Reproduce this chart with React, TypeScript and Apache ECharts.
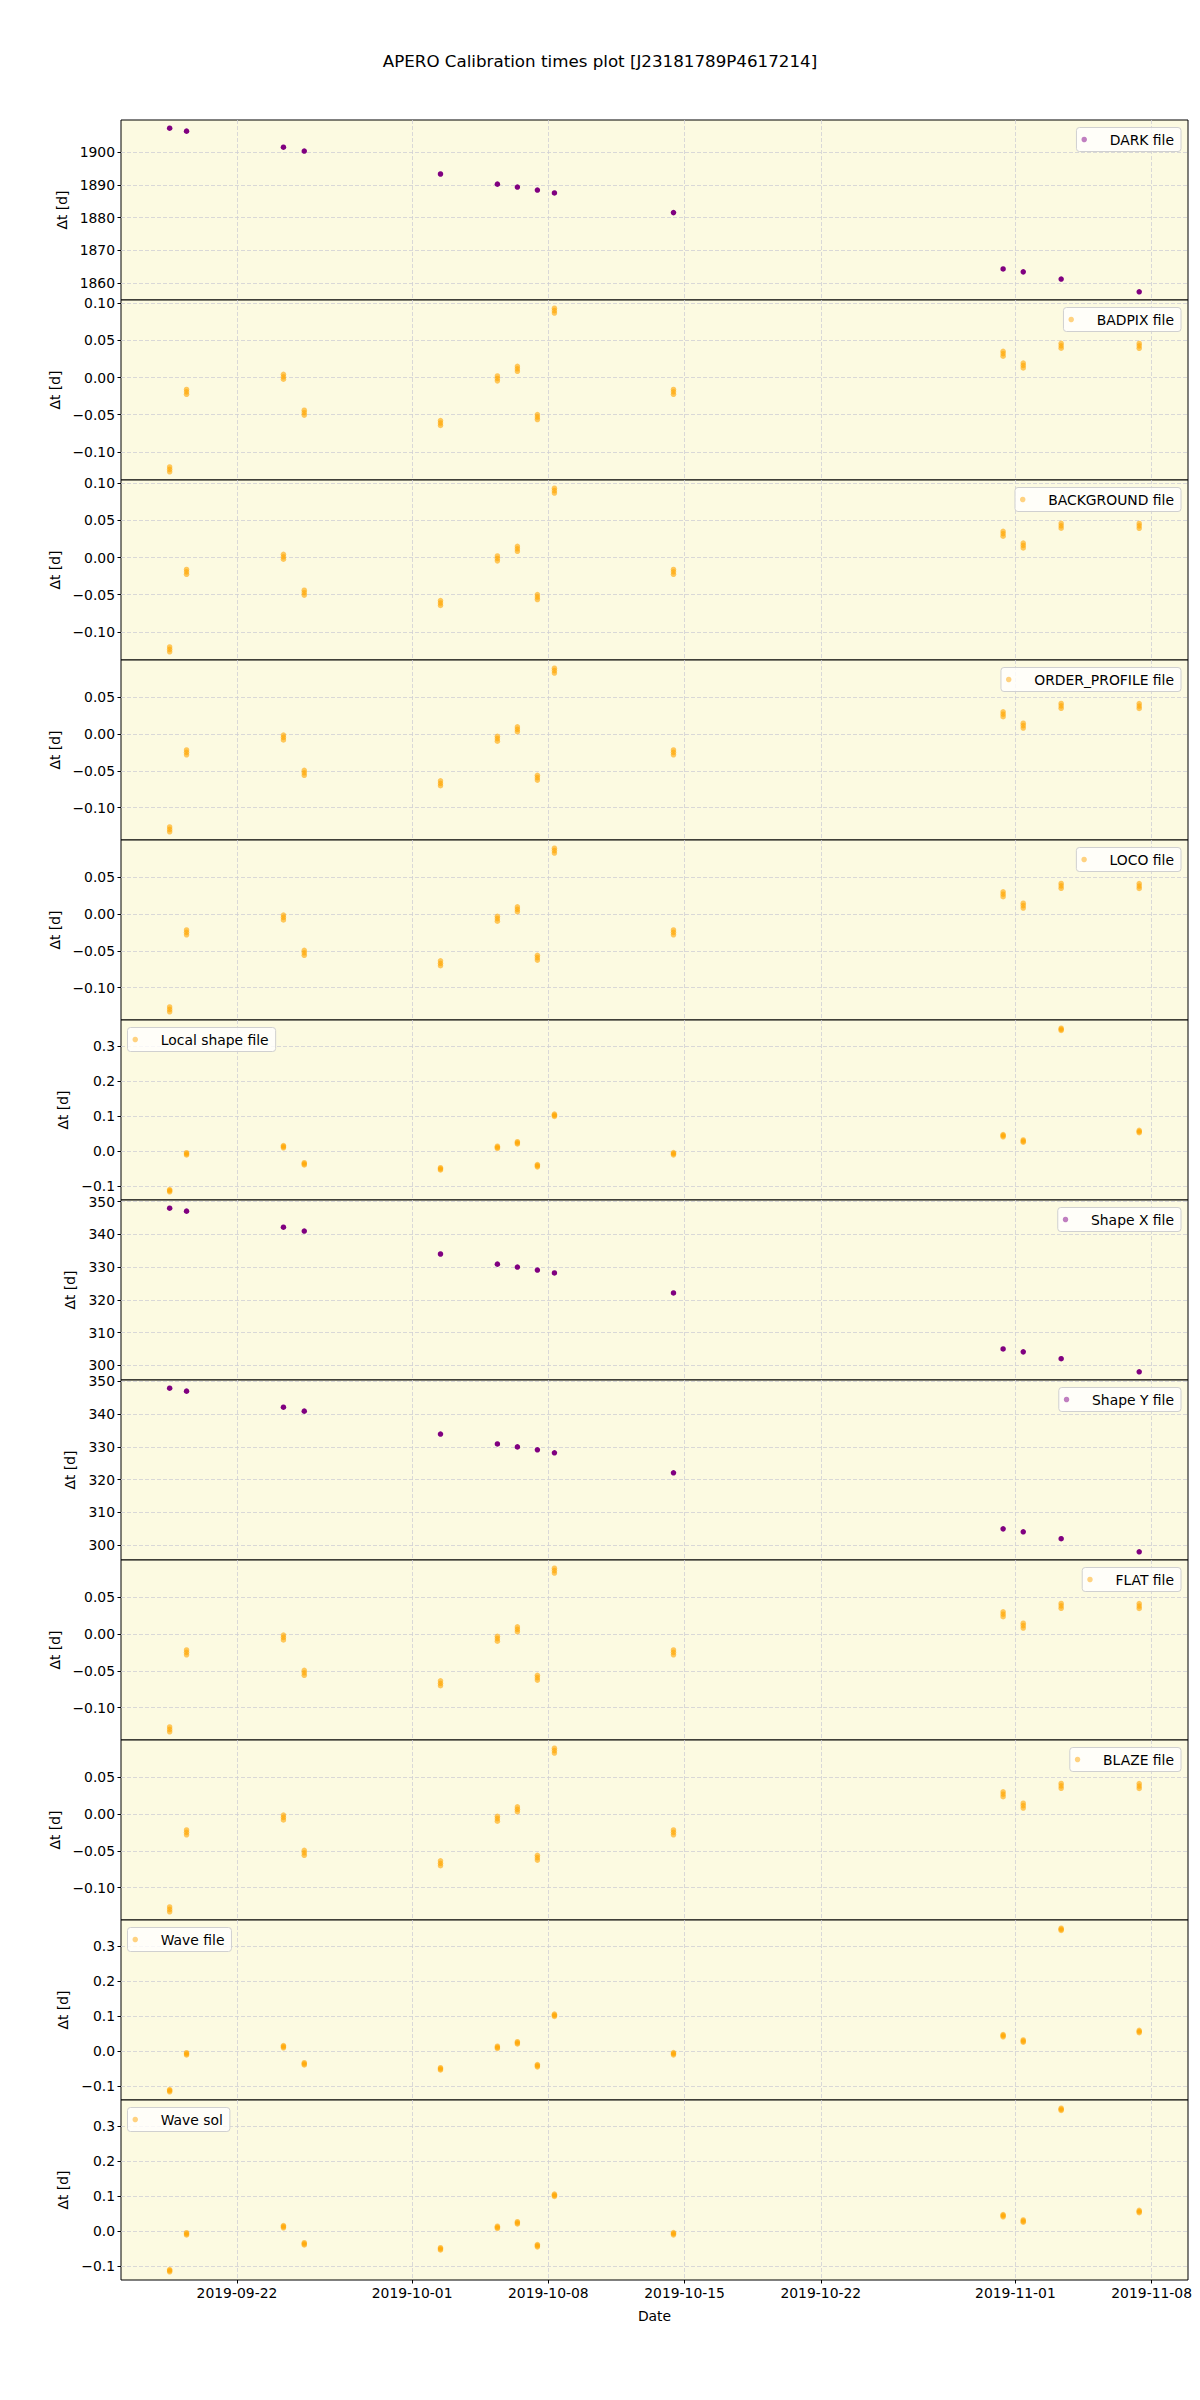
import React, { useEffect, useRef } from "react";
import * as echarts from "echarts";

const FONT = "DejaVu Sans";
const TITLE = "APERO Calibration times plot [J23181789P4617214]";

// observation nights (UTC)
const obsDates = [
  "2019-09-18T13:00:00Z", "2019-09-19T09:50:00Z", "2019-09-24T09:20:00Z", "2019-09-25T11:00:00Z",
  "2019-10-02T11:00:00Z", "2019-10-05T09:10:00Z", "2019-10-06T09:50:00Z", "2019-10-07T10:30:00Z",
  "2019-10-08T07:30:00Z", "2019-10-14T10:20:00Z", "2019-10-31T08:50:00Z", "2019-11-01T09:40:00Z",
  "2019-11-03T08:25:00Z", "2019-11-07T08:40:00Z",
];
const xTickDates = ["2019-09-22", "2019-10-01", "2019-10-08", "2019-10-15", "2019-10-22", "2019-11-01", "2019-11-08"];
const xMinDate = "2019-09-16T01:00:00Z";
const xMaxDate = "2019-11-09T20:50:00Z";

const darkFile = [1907.3, 1906.4, 1901.5, 1900.3, 1893.3, 1890.2, 1889.3, 1888.4, 1887.5, 1881.5, 1864.3, 1863.4, 1861.2, 1857.3];
const shapeXFile = [348.0, 347.1, 342.2, 341.0, 334.0, 330.9, 330.0, 329.1, 328.2, 322.1, 305.0, 304.1, 302.0, 298.0];
const shapeYFile = [347.9, 347.0, 342.1, 340.9, 333.9, 330.9, 330.0, 329.1, 328.2, 322.1, 305.0, 304.1, 302.0, 298.0];

const badpixFile = [
  [-0.1203, -0.1236, -0.1269], [-0.016, -0.0193, -0.0226], [0.0043, 0.001, -0.0023], [-0.044, -0.0473, -0.0506],
  [-0.0579, -0.0612, -0.0645], [0.0021, -0.0012, -0.0045], [0.015, 0.0117, 0.0084], [-0.0499, -0.0532, -0.0565],
  [0.0933, 0.09, 0.0867], [-0.016, -0.0193, -0.0226], [0.0353, 0.032, 0.0287], [0.0195, 0.0162, 0.0129],
  [0.046, 0.0427, 0.0394], [0.0459, 0.0426, 0.0393],
];
const backgroundFile = [
  [-0.1203, -0.1236, -0.1269], [-0.016, -0.0193, -0.0226], [0.0043, 0.001, -0.0023], [-0.044, -0.0473, -0.0506],
  [-0.0579, -0.0612, -0.0645], [0.0021, -0.0012, -0.0045], [0.015, 0.0117, 0.0084], [-0.0499, -0.0532, -0.0565],
  [0.0933, 0.09, 0.0867], [-0.016, -0.0193, -0.0226], [0.0353, 0.032, 0.0287], [0.0195, 0.0162, 0.0129],
  [0.046, 0.0427, 0.0394], [0.0459, 0.0426, 0.0393],
];
const orderProfileFile = [
  [-0.1263, -0.1296, -0.1329], [-0.0217, -0.025, -0.0283], [-0.0015, -0.0048, -0.0081], [-0.0495, -0.0528, -0.0561],
  [-0.0637, -0.067, -0.0703], [-0.0032, -0.0065, -0.0098], [0.0096, 0.0063, 0.003], [-0.0561, -0.0594, -0.0627],
  [0.0893, 0.086, 0.0827], [-0.0217, -0.025, -0.0283], [0.0301, 0.0268, 0.0235], [0.0146, 0.0113, 0.008],
  [0.0414, 0.0381, 0.0348], [0.0412, 0.0379, 0.0346],
];
const locoFile = [
  [-0.1263, -0.1296, -0.1329], [-0.0217, -0.025, -0.0283], [-0.0015, -0.0048, -0.0081], [-0.0495, -0.0528, -0.0561],
  [-0.0637, -0.067, -0.0703], [-0.0032, -0.0065, -0.0098], [0.0096, 0.0063, 0.003], [-0.0561, -0.0594, -0.0627],
  [0.0893, 0.086, 0.0827], [-0.0217, -0.025, -0.0283], [0.0301, 0.0268, 0.0235], [0.0146, 0.0113, 0.008],
  [0.0414, 0.0381, 0.0348], [0.0412, 0.0379, 0.0346],
];
const flatFile = [
  [-0.1263, -0.1296, -0.1329], [-0.0217, -0.025, -0.0283], [-0.0015, -0.0048, -0.0081], [-0.0495, -0.0528, -0.0561],
  [-0.0637, -0.067, -0.0703], [-0.0032, -0.0065, -0.0098], [0.0096, 0.0063, 0.003], [-0.0561, -0.0594, -0.0627],
  [0.0893, 0.086, 0.0827], [-0.0217, -0.025, -0.0283], [0.0301, 0.0268, 0.0235], [0.0146, 0.0113, 0.008],
  [0.0414, 0.0381, 0.0348], [0.0412, 0.0379, 0.0346],
];
const blazeFile = [
  [-0.1263, -0.1296, -0.1329], [-0.0217, -0.025, -0.0283], [-0.0015, -0.0048, -0.0081], [-0.0495, -0.0528, -0.0561],
  [-0.0637, -0.067, -0.0703], [-0.0032, -0.0065, -0.0098], [0.0096, 0.0063, 0.003], [-0.0561, -0.0594, -0.0627],
  [0.0893, 0.086, 0.0827], [-0.0217, -0.025, -0.0283], [0.0301, 0.0268, 0.0235], [0.0146, 0.0113, 0.008],
  [0.0414, 0.0381, 0.0348], [0.0412, 0.0379, 0.0346],
];
const localShapeFile = [
  [-0.1088, -0.112, -0.1152], [-0.0038, -0.007, -0.0102], [0.0165, 0.0133, 0.0101], [-0.0323, -0.0355, -0.0387],
  [-0.0465, -0.0497, -0.0529], [0.0147, 0.0115, 0.0083], [0.0275, 0.0243, 0.0211], [-0.0378, -0.041, -0.0442],
  [0.1059, 0.1027, 0.0995], [-0.0036, -0.0068, -0.01], [0.0479, 0.0447, 0.0415], [0.0323, 0.0291, 0.0259],
  [0.3505, 0.3473, 0.3441], [0.0596, 0.0564, 0.0532],
];
const waveFile = [
  [-0.1088, -0.112, -0.1152], [-0.0038, -0.007, -0.0102], [0.0165, 0.0133, 0.0101], [-0.0323, -0.0355, -0.0387],
  [-0.0465, -0.0497, -0.0529], [0.0147, 0.0115, 0.0083], [0.0275, 0.0243, 0.0211], [-0.0378, -0.041, -0.0442],
  [0.1059, 0.1027, 0.0995], [-0.0036, -0.0068, -0.01], [0.0479, 0.0447, 0.0415], [0.0323, 0.0291, 0.0259],
  [0.3505, 0.3473, 0.3441], [0.0596, 0.0564, 0.0532],
];
const waveSol = [
  [-0.1088, -0.112, -0.1152], [-0.0038, -0.007, -0.0102], [0.0165, 0.0133, 0.0101], [-0.0323, -0.0355, -0.0387],
  [-0.0465, -0.0497, -0.0529], [0.0147, 0.0115, 0.0083], [0.0275, 0.0243, 0.0211], [-0.0378, -0.041, -0.0442],
  [0.1059, 0.1027, 0.0995], [-0.0036, -0.0068, -0.01], [0.0479, 0.0447, 0.0415], [0.0323, 0.0291, 0.0259],
  [0.3505, 0.3473, 0.3441], [0.0596, 0.0564, 0.0532],
];

const darkTicks = [1860, 1870, 1880, 1890, 1900];
const badpixTicks = [-0.1, -0.05, 0, 0.05, 0.1];
const orderTicks = [-0.1, -0.05, 0, 0.05];
const waveTicks = [-0.1, 0, 0.1, 0.2, 0.3];
const shapeTicks = [300, 310, 320, 330, 340, 350];

const PURPLE = "#800080";
const ORANGE = "#ffa500";
const PURPLE_LEG = "#c07fc0";
const ORANGE_LEG = "#ffd280";
const BG = "#fcfae1";
const GRIDC = "#cfcfd4";
const FS = 13.9;

export default function App() {
  const ref = useRef<HTMLDivElement>(null);
  useEffect(() => {
    document.body.style.margin = "0";
    const chart = echarts.init(ref.current!, null, { renderer: "svg" });
    const T = obsDates.map((d) => Date.parse(d));
    const xTicks = xTickDates.map((d) => Date.parse(d + "T00:00:00Z"));
    const xMin = Date.parse(xMinDate);
    const xMax = Date.parse(xMaxDate);
    const single = (a: number[]) => a.map((v) => [v]);

    const panels = [
      { name: "DARK file", data: single(darkFile), color: PURPLE, ticks: darkTicks, dec: 0, side: "right", gap: 52 },
      { name: "BADPIX file", data: badpixFile, color: ORANGE, ticks: badpixTicks, dec: 2, side: "right", gap: 59 },
      { name: "BACKGROUND file", data: backgroundFile, color: ORANGE, ticks: badpixTicks, dec: 2, side: "right", gap: 59 },
      { name: "ORDER_PROFILE file", data: orderProfileFile, color: ORANGE, ticks: orderTicks, dec: 2, side: "right", gap: 59 },
      { name: "LOCO file", data: locoFile, color: ORANGE, ticks: orderTicks, dec: 2, side: "right", gap: 59 },
      { name: "Local shape file", data: localShapeFile, color: ORANGE, ticks: waveTicks, dec: 1, side: "left", gap: 50 },
      { name: "Shape X file", data: single(shapeXFile), color: PURPLE, ticks: shapeTicks, dec: 0, side: "right", gap: 44 },
      { name: "Shape Y file", data: single(shapeYFile), color: PURPLE, ticks: shapeTicks, dec: 0, side: "right", gap: 44 },
      { name: "FLAT file", data: flatFile, color: ORANGE, ticks: orderTicks, dec: 2, side: "right", gap: 59 },
      { name: "BLAZE file", data: blazeFile, color: ORANGE, ticks: orderTicks, dec: 2, side: "right", gap: 59 },
      { name: "Wave file", data: waveFile, color: ORANGE, ticks: waveTicks, dec: 1, side: "left", gap: 50 },
      { name: "Wave sol", data: waveSol, color: ORANGE, ticks: waveTicks, dec: 1, side: "left", gap: 50 },
    ];

    const TOP0 = 120;
    const H = 180;
    const LEFT = 121;
    const RIGHT = 12;
    const n = panels.length;
    const grids: any[] = [];
    const xAxes: any[] = [];
    const yAxes: any[] = [];
    const series: any[] = [];
    const legends: any[] = [];
    const fmtNum = (v: number, dec: number) => {
      const s = Math.abs(v).toFixed(dec);
      return v < -1e-9 ? "\u2212" + s : s;
    };
    const fmtDate = (v: number) => new Date(v).toISOString().slice(0, 10);

    panels.forEach((p, i) => {
      const top = TOP0 + i * H;
      const isLast = i === n - 1;
      const all = p.data.flat();
      const lo = Math.min(...all);
      const hi = Math.max(...all);
      const pad = (hi - lo) * 0.05;
      grids.push({
        left: LEFT, right: RIGHT, top, height: H, show: true,
        backgroundColor: BG, borderColor: "#000", borderWidth: 1,
      });
      xAxes.push({
        type: "value", gridIndex: i, min: xMin, max: xMax, scale: true, position: "bottom",
        axisLine: { show: false, onZero: false },
        axisTick: { show: isLast, customValues: xTicks, length: 3.5, lineStyle: { color: "#000" } },
        axisLabel: {
          show: isLast, customValues: xTicks, margin: 6,
          formatter: fmtDate,
          fontFamily: FONT, fontSize: FS, color: "#000",
        },
        splitLine: { show: true, lineStyle: { color: GRIDC, type: [4, 2], width: 0.8 } },
        name: isLast ? "Date" : "", nameLocation: "middle", nameGap: 29,
        nameTextStyle: { fontFamily: FONT, fontSize: FS, color: "#000" },
      });
      yAxes.push({
        type: "value", gridIndex: i, min: lo - pad, max: hi + pad, scale: true, position: "left",
        axisLine: { show: false, onZero: false },
        axisTick: { show: true, customValues: p.ticks, length: 3.5, lineStyle: { color: "#000" } },
        axisLabel: {
          customValues: p.ticks, margin: 6, formatter: (v: number) => fmtNum(v, p.dec),
          fontFamily: FONT, fontSize: FS, color: "#000",
        },
        splitLine: { show: true, lineStyle: { color: GRIDC, type: [4, 2], width: 0.8 } },
        name: "\u0394t [d]", nameLocation: "middle", nameGap: p.gap, nameRotate: 90,
        nameTextStyle: { fontFamily: FONT, fontSize: FS, color: "#000" },
      });
      const pts: number[][] = [];
      p.data.forEach((cl, k) => cl.forEach((v) => pts.push([T[k], v])));
      series.push({
        name: p.name, type: "scatter", xAxisIndex: i, yAxisIndex: i, data: pts,
        symbol: "circle", symbolSize: 5.5, silent: true,
        itemStyle: { color: p.color, opacity: p.color === ORANGE ? 0.6 : 1 },
      });
      const lg: any = {
        data: [{ name: p.name, icon: "circle", itemStyle: { color: p.color === ORANGE ? ORANGE_LEG : PURPLE_LEG, opacity: 1 } }],
        top: top + 7.5, orient: "vertical", selectedMode: false,
        backgroundColor: "rgba(255,255,255,0.8)", borderColor: "#d0d0d0", borderWidth: 1, borderRadius: 3,
        padding: [5, 7, 5, 5], itemWidth: 27, itemHeight: 5.5,
        textStyle: { fontFamily: FONT, fontSize: FS, color: "#000", padding: [0, 0, 0, 7] },
      };
      if (p.side === "right") lg.right = 19;
      else lg.left = 127.5;
      legends.push(lg);
    });

    chart.setOption({
      animation: false,
      backgroundColor: "#ffffff",
      title: {
        text: TITLE, left: "center", top: 47,
        textStyle: { fontFamily: FONT, fontSize: 16.7, fontWeight: "normal", color: "#000" },
      },
      grid: grids,
      xAxis: xAxes,
      yAxis: yAxes,
      legend: legends,
      series,
    });
    return () => chart.dispose();
  }, []);
  return <div ref={ref} style={{ width: 1200, height: 2400 }} />;
}
